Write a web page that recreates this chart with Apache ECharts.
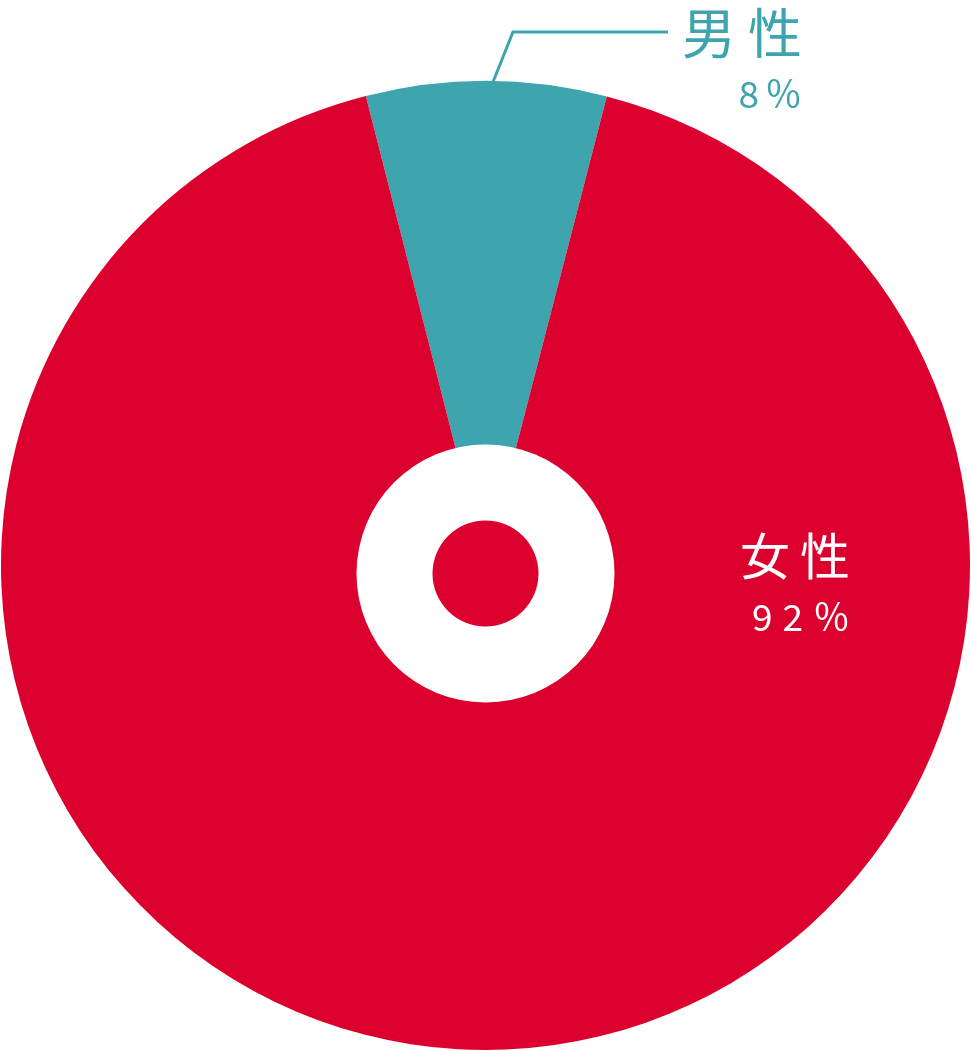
<!DOCTYPE html>
<html>
<head>
<meta charset="utf-8">
<script src="https://cdn.jsdelivr.net/npm/echarts@6/dist/echarts.min.js"></script>
<style>
  html, body { margin: 0; padding: 0; background: #fff; }
  #chart { width: 971px; height: 1051px; }
</style>
</head>
<body>
<div id="chart"></div>
<script>
const categories = ["男性", "女性"];
const shares = [8, 92];
const sliceColors = ["#3ea4ae", "#dc002e"];
const labelColors = ["#3ea4ae", "#ffffff"];

const FONT = '"Noto Sans CJK JP", "Noto Sans", sans-serif';

// name and value split into rich pieces so the wide spacing can be padded
function labelText(name, value) {
  const chars = name.split("");
  const nums = String(value).split("");
  const top = chars.map((c, i) => (i < chars.length - 1 ? `{c|${c}}` : `{cl|${c}}`)).join("");
  const bottom = nums.map((d) => `{d|${d}}`).join("") + "{p|％}";
  return `${top}\n${bottom}`;
}

function richFor(idx) {
  const big = idx === 0 ? 54 : 50;
  const col = labelColors[idx];
  return {
    c: { fontFamily: FONT, fontSize: big, color: col, lineHeight: 60, padding: [0, idx === 0 ? 12 : 10, 0, 0] },
    cl: { fontFamily: FONT, fontSize: big, color: col, lineHeight: 60 },
    d: { fontFamily: FONT, fontSize: 37, color: col, lineHeight: 62, padding: [0, idx === 0 ? 6 : 10, 0, 0] },
    p: { fontFamily: FONT, fontSize: 37, color: col, lineHeight: 62 },
  };
}

const pieData = categories.map((name, i) => ({
  name,
  value: shares[i],
  itemStyle: { color: sliceColors[i] },
  label: {
    show: true,
    position: i === 0 ? "outside" : "inside",
    formatter: labelText(name, shares[i]),
    rich: richFor(i),
    align: "right",
  },
  labelLine: {
    show: i === 0,
    lineStyle: { color: sliceColors[0], width: 3 },
  },
}));

const chart = echarts.init(document.getElementById("chart"), null, { renderer: "canvas" });

chart.setOption({
  animation: false,
  backgroundColor: "#ffffff",
  series: [
    {
      type: "pie",
      silent: true,
      center: [485.5, 565.5],
      radius: [0, 484.5],
      startAngle: 104.3,
      clockwise: true,
      avoidLabelOverlap: false,
      data: pieData,
      labelLayout(params) {
        if (params.dataIndex === 0) {
          return {
            x: 802,
            y: 3,
            align: "right",
            verticalAlign: "top",
            labelLinePoints: [[493, 82], [513, 32], [668, 32]],
          };
        }
        return { x: 850, y: 526, align: "right", verticalAlign: "top" };
      },
    },
    {
      // white ring around the hub
      type: "pie",
      silent: true,
      center: [485.5, 573.5],
      radius: [0, 129],
      label: { show: false },
      labelLine: { show: false },
      data: [{ value: 1, itemStyle: { color: "#ffffff" } }],
    },
    {
      // red dot in the middle
      type: "pie",
      silent: true,
      center: [485.5, 573.5],
      radius: [0, 53],
      label: { show: false },
      labelLine: { show: false },
      data: [{ value: 1, itemStyle: { color: sliceColors[1] } }],
    },
  ],
});
</script>
</body>
</html>
